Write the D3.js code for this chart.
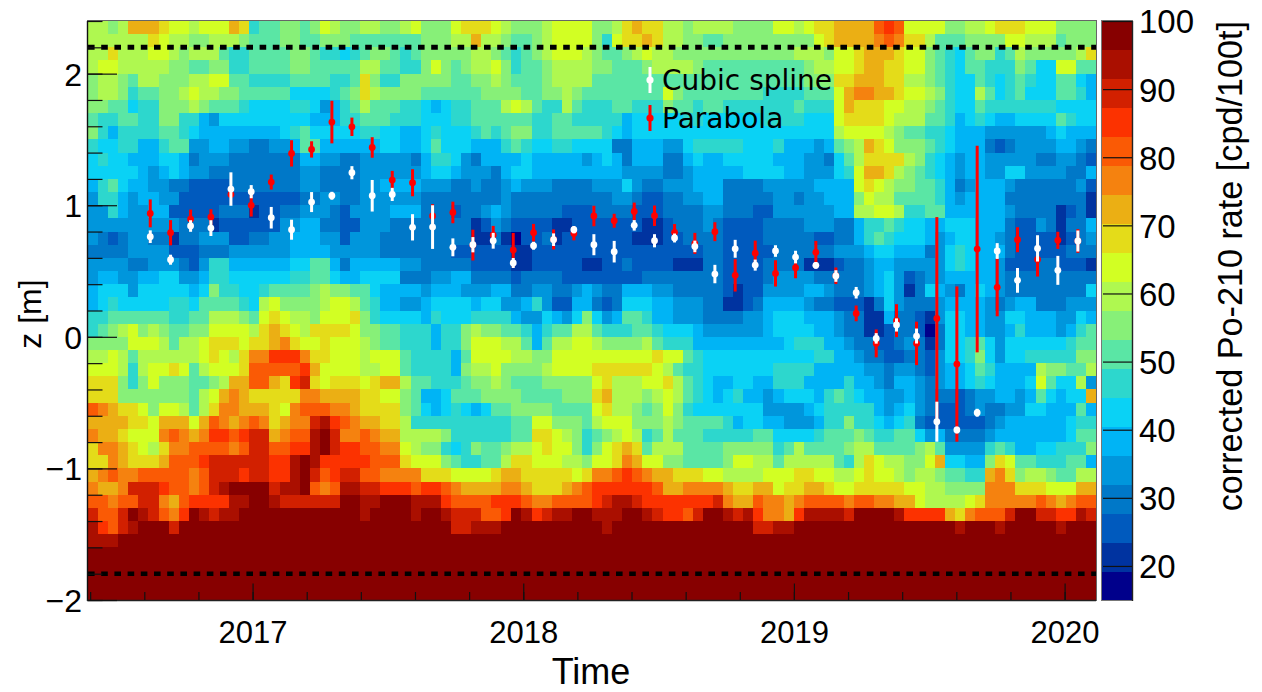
<!DOCTYPE html>
<html><head><meta charset="utf-8">
<script src="https://cdn.jsdelivr.net/npm/d3@7"></script>
<style>html,body{margin:0;padding:0;background:#fff}svg{display:block}</style>
</head><body><svg id="c" width="1262" height="692"></svg>
<script>
// colour levels, lowest to highest rate (20 equal bands between 15 and 100)
const palette = ["#00008b","#0033a0","#005abe","#0078c8","#0096dc","#00b4f5","#0ad2f5","#2dd7cd","#5ae6a5","#87f078","#aff850","#d2ff23","#e4dc19","#ebaf14","#f5820f","#fa5a05","#fc3200","#d22000","#aa0f00","#870000"];
const rateExtent = [15, 100];
const zExtent = [-2, 2.4];
const timeExtent = [2016.392, 2020.116];
// heat map rows, top (z=2.4) to bottom; each character is a rate band 0-9,a-j, one per two-week column
const heatRows = [
"aa9a ddd c bb a bbb d c 7 88 99 8 9 b a 99 aa 99 a b  999 b ccc b a 999 a bbbb 99 a c d cc aa 9 aaaa 999  9 bb a b cc dddd f g f bbbb 99 aa b ccc bbb 9999",
"aaaaaa c b aa 99 aaa 9 888 99 88 999 8888888  999aa d aa 9 88 9 a bbbb 9 7 b cc d c aa 99 88 9999  99999 b c dddd e f e cc a 888 9999 bb aaa 8 999",
"aacaaa bb a 9 aaa 8 77 8888 99 8 77 6 7 8 99 8 7 8  9999 9 aa 9 8 7 8 9 a bbb a 9 88 9 a b aa 9 99999999  999 aaa 9 bb c ddd c bb 9 8 7 6 8 99 7 8 a 99999 a c",
"a bb aaaaa 99 88 99 77 8888 99 88888 aa 88 77  9 b 9 8 9 aa b 9 7 88 9 aaaa 99 888 9 aaaa 9 888888  8888 9 aa bb c dd cc bb 9 8 7 6 88 777 9 8 66 bb 88",
"9 aa 9 8 aa 999 aa bb 88 7777 8888 77 8 c 9 77 99  999 88 99 a 9 888 9 aaaa 88888888888888888  8888 999 cc ddd cc aa 9 8 7 66 8 7 6 7 8 7 66 88 6 5",
"9 aa 9 7 88 99 a b aa 99 88888 6666 7 8 9 c a 9999  888888 9999 88 99 a 9 88888888 b 9 88888888  7777 888 b d ee dd c bb a 9 7 66 a 8 6 7 8 666 88 7 5",
"99 88 6 77 999 a 9 888 7 6666 77 6 4 5 7 8 a 888 77  6 5 6 77 888 a b a 8 77 a 8 777 88 777 9 88 7 88 7777  777 8 777 b d ccc bb aa 9 8 7 66 8 7777777 6666",
"8 77 88 77 99 77 5 4 666666666 555 77 888 777  666 77 88888 8 77 88 77777 5 66666 77 666666  7777 666 b cccc b aaa 88 7 5 6 7 6 55 6666 8 7 66",
"9 7 5 7777 88 7 6 55555555 6 7 8 66666 77 66 55  6 7 666 7 8 7 8 99 77 88888 7 6 5 6666666666666  6666666 a bbbb a 9 88 77 6 555 444444 5 6 555",
"7 66 77 55 7 88 44 55 44 33 44 5 88 555555 66 55  6 8 666 555 7 8 7 66 77 6666 33 555 44 6 77777 66  6 7 555 4 5 8 9 a d c b 999 8 7 6 555 3 2 3 4444 55 4 3",
"6 7 66 555 66 5 3 444 3333333 55 44 33 44444 3  5 77 6 4 3 5555 6 55555 4 5 6 5 3 555 33 5 6 55 6666  6 555 44 3 6 8 a cccc a 9 7 6 5 4 55 44444 33 44 3 2",
"66666 5 4 5 6 5 44 33 3333333 44 3333 444444  5 66 5 44 4 3 5 66 555555555 4444 33 4 5 5555 66  66 55 444 6 7 b dd c a 9 8 7 6 5 4 55 44 66 4444 33 5",
"5786 55 44 33 2222 3333333 44 3333 44 5555  444 33 4 33 4 5 444 3333 444 6 4 33 444 555 3333  44444 5555 b c b a 99 88 7 5 3 4 555 4 333333 4 2",
"4775 4 55 44 222222222222 33 44 33 444444  33333333 4 3333333333 44 3 22 33 44 55 3333  3 44 3 44 555 9 b aa 8888 7 5 4 5555 33333333 1",
"4475 44 55 22222 333 1 22 33 444 3 2 4444 555  333 2 33 4 5 4 33333 222 3333 222 3333 44 333 2  2 444444 55 aa bb a 77 88 555555 4 3333 1 2 3 1",
"444444444 333 1 222222 44 55 33 22 444 333  33333 1 2 4 3 2222 11 222222 2 11 2 333 4 3 2222  3333 444 33 5 77 8 7 66 55 666 555 3 22 4 3 1 33 5",
"4323 44 33 1 33 444 22 33 44 555 44 2 444 3333  33333 11 3 1 0 22 3 1 2222222 111 22 3333 2222  33333 22 33 5 7 8 7 666 5 4 5 66 55 4 3 2222 1 2 3 4",
"3333 4444 222 333 444444 5555 44444 3333  333 222222 11 2222222222222 2222 33 2222  2 333333 444 5 66 555 3 4 6 7 6 555 3 22222 333",
"4444 33 444 3 2 4 77 555555 66 88 5 3 55555 44  33333 2222 11 2222 2 11 22 3 222 2 111 33 2222  3333 111 2 33 4 55 44444 6 7 6 55 4 222 33 222 1",
"4 55 44 55 66 44 5 77 666666 77 88 6 55 6666 33  3 44 55 3333 2 3 333 22222222 33333333 2222  3 4444 33333 4 5 6 4 2 3 44 55555 4 333333333",
"5 666 4 666 66 5 6 9 77 66 7 8888 9 a 99 88 6 5555  4 555 444 55 33 44 33 4 5 4 33 555 44 33333 2 1 22  4444 55 4 333 4 5 6 4 1 3 6 5 4 3 5 6 5 4 33333333 6",
"5 6 7 66666 77 6 8888 7 6 a b 9999 a bb a 8 7 55 44  5 6666 5 66 44 5 7 4 22 55 3 2 3 666 55 444 33 11 2 3  5555 4 33 222 1 3 6 4 333 4 5555 4 3 4 55 333 444",
"77 888888 77 88 a aa 9 8 b c b aa 9 bbb c 9 7 6666  5 7 666 7777 5 44 6 5 4 6 9 6 4 5 88 7 5 5 444 3333 44  5 666 555 4 33 11 5 33 2 1 4 66 55 44 66 555 44 6 5",
"7 8 9 a b 9 a 9 88 99 bbbb a c d c b a c ccc b 99 88 77  7 5 77 9 a 99 88 7 5 7 88 aa 8 777 88 7 666 5 444444  5 6666 55 4 33 11 2 33 2 0 3 66 55 44 5 7 555 4 5 7 8",
"9999 bbb a 8 aa b ccc b cc d e c bb c bbb a 9 88 77  7 5 77 9 bbb aa 8 5 8 aa bb a 9999 a 8 777 5555555  55 6 777 55 4 33 22 3 4 3 1 3 66 7 8 6 4 666666 7 88",
"a a b a 8 aaaaaa b c b a c ee ggg e c c bbb a bbb 8 7  777 5 8 bbbb aa 99 bbbb bbbbbb c bb 8 7 666666  66666 77 55 4 33 22 33 2 4 66 7 9 6 4 66 77777 99",
"bbb a 7 a bb c b 8 a bbb c fffff g d bbbb aa bb 8 7  777 5 9 aa b 9999 a bbbb cccccc b a 8 77 666666  6 7777 55555 4 4 3 44 3 2 4 55 6 8 7 5555 a 99 88 a",
"ccc 9 7 9 b 999 88 9 a dd f f d c g h c b ccc b c dd a 8  8 777 8 99 a 9 888 99 999 b c aaa bb c a 8 7 6 55 66 5  5 777 5555 7 55 4 3 55 4 3 4 55 6 7 6 555 6 b 8 66 a 4",
"ccc 9999999 8 a b d e d ccccc ee dddd cc bb 9 8  55 6 888 9999 8888 999 c d aaa 9 a b a 8 7 6 5 6 7 55  4 5 666 5 7 8 7 6 55 44 5 4 333 2 3 44 55 4 5 8 6 5 66 d",
"f e d cc b 9 bb a 8 a c ee d dd c b e fff ee d cccc 9 8  6 5 6 7 6 5 6 88 9999 8888 b c aa 9 8 9 b 9 7 6666666  4444 5 6 77777 5 4 5 6 4 3 222 3 4 33 44 66 555 8 5",
"dddd cc b ddd b d f e d e f e c d ee h i g f e dd cc a 7  777777777 88 bb 999 8 a bbb 999 a 9 8888 7 5 66  55 444 5 77 9 77 6 5 6 7 3 222222 3 4 555555 6 77",
"e dd c bbb e f e d e gg f g h h d e ff i j h ee f e dd aa  aa 9 777777 88 cc b a 9 7 8 9 a b a 7 8 a 888 77777 8  8 6666 7 888 9 8 77 88 6 4 5 3333 4 5555555 6 88",
"c ee d c b a c ee ffff e f hh ff gg i j h gg ff ee b a  99 7 6 7 9 88 9 aa b c bb 9 7 9 b c d c 8 aaa 8888 9999  9 7 8 a 8888 9 aa 8888 9 a 8 4444 7 8 7 55 66 777 9",
"cc e d ccc d fff g hhhhhh gg i j i ggggg fff c b  bb 9 8 77 88 a cc bbb aa 9 bb c e d bb 99 8888 9 bb a  a 8 aaaaa 8 7 a c b aa 99 b d 66 55 9 c b 88 777 88 5",
"d e f ee fffff e f hhh g hh gg i j h f g hh ff eeee  ccc bbbb c dd ccccc b c ee f g f e dd ccc bb aaaa  bbb cc bb aa b c bb a 9 aa 9 88 77 d e c 9 aa 9 88 aa",
"e dd e hhh g ff e f h i jjjj h ii j f e f ii hh ggg f  gg f e dddd ee d ccc d e f gggggg f dd eeee d cc d  d b cc dd c bb ccccc bb aa 9999 eee ccc bbb dd",
"ff e ff hh e d f gggg ii jj i hhhhhh jj ii jjj i  ii g ffff ggg f ee ffff g h ii h ggggggg h e dd f  ee d e ffff e ff ee dd b aaaa b c eeeee f e d e ff",
"h ff h j i h f e g j i h ii jjjjjjjjjjjj i jjjj i  jj i hhh ff g j i g h ii jj iii jj i h gg f h jj i h i g  ee d g iiii h jjjj i gggg d c e fff h jj hh gg i h",
"i g f h i jjj h jjjjjjjjjjjjjjjjjjjjjjjj  jjj hh iii jjjjjjjjjj i jjjjjjjjjjjjjj h  h ii jjjjjjjjjjjjjjjj i jjj i jjjjj i jjj",
"iii jjjjjjjjjjjjjjjjjjjjjjjjjjjjjj  jjjjjjjjjjjjjjjjjjjjjjjjjjjjjjjj  jjjjjjjjjjjjjjjjjjjjjjjjjjjjjjjjj",
"jjjjjjjjjjjjjjjjjjjjjjjjjjjjjjjjj jjjjjjjjjjjjjjjjjjjjjjjjjjjjjjjjj jjjjjjjjjjjjjjjjjjjjjjjjjjjjjjjjj",
"jjjjjjjjjjjjjjjjjjjjjjjjjjjjjjjjj jjjjjjjjjjjjjjjjjjjjjjjjjjjjjjjjj jjjjjjjjjjjjjjjjjjjjjjjjjjjjjjjjj",
"jjjjjjjjjjjjjjjjjjjjjjjjjjjjjjjjj jjjjjjjjjjjjjjjjjjjjjjjjjjjjjjjjj jjjjjjjjjjjjjjjjjjjjjjjjjjjjjjjjj",
"jjjjjjjjjjjjjjjjjjjjjjjjjjjjjjjjj jjjjjjjjjjjjjjjjjjjjjjjjjjjjjjjjj jjjjjjjjjjjjjjjjjjjjjjjjjjjjjjjjj"
];
const pointTimes = [2016.622,2016.697,2016.771,2016.846,2016.920,2016.995,2017.069,2017.144,2017.218,2017.293,2017.367,2017.442,2017.516,2017.591,2017.665,2017.740,2017.814,2017.889,2017.963,2018.038,2018.112,2018.187,2018.261,2018.336,2018.410,2018.485,2018.559,2018.634,2018.708,2018.783,2018.857,2018.932,2019.006,2019.081,2019.155,2019.230,2019.304,2019.379,2019.453,2019.528,2019.602,2019.677,2019.751,2019.826,2019.900,2019.975,2020.049];
const splineZ = [.761,.586,.842,.826,1.123,1.103,.905,.814,1.024,1.072,1.247,1.072,1.082,.832,.834,.680,.700,.730,.561,.692,.738,.814,.700,.647,.847,.730,.751,.687,.477,.669,.545,.652,.606,.543,.462,.335,-.012,.090,.006,-.645,-.708,-.577,.652,.429,.672,.505,.728];
const splineErr = [.048,.038,.044,.06,.127,.05,.082,.076,.076,.03,.05,.12,.05,.1,.166,.068,.058,.06,.038,.03,.048,.028,.08,.082,.04,.05,.034,.044,.07,.068,.042,.044,.048,.025,.044,.044,.04,.05,.057,.152,.025,.03,.06,.094,.1,.11,.08];
const parabolaZ = [.938,.791,.895,.910,1.082,.999,1.176,1.394,1.424,1.632,1.596,1.439,1.191,1.171,.918,.945,.697,.773,.659,.791,.740,.786,.918,.882,.953,.920,.794,.710,.799,.467,.636,.482,.525,.642,.464,.178,-.05,.123,-.05,.14,-.207,.667,.376,.738,.588,.733,.728];
const parabolaErr = [.106,.096,.072,.06,.02,.085,.057,.1,.062,.162,.07,.078,.07,.103,.09,.082,.117,.07,.13,.067,.076,.053,.078,.053,.067,.078,.063,.08,.072,.123,.095,.1,.08,.087,.063,.06,.106,.125,.165,.77,.59,.785,.22,.095,.13,.065,.09];
const yearTicks = [2017,2018,2019,2020];
const zTicks = [-2,-1,0,1,2];
const rateTicks = [20,30,40,50,60,70,80,90,100];
const legendItems = [["Cubic spline","#fff"],["Parabola","#f00"]];

const L=88,R=1096,T=21,B=600,CL=1102,CR=1132;
const SANS="'Liberation Sans',Arial,sans-serif";
const svg=d3.select("#c");
const x=d3.scaleLinear().domain(timeExtent).range([L,R]);
const y=d3.scaleLinear().domain(zExtent).range([B,T]);
const cb=d3.scaleLinear().domain(rateExtent).range([B,T]);
const color=d3.scaleQuantize().domain(rateExtent).range(palette);
const bandValue=i=>rateExtent[0]+(i+.5)*(rateExtent[1]-rateExtent[0])/palette.length;

const grid=heatRows.map(r=>{const s=r.replace(/\s/g,"").padEnd(100,"j").slice(0,100);return s.split("").map(c=>parseInt(c,20));});
const colStep=(timeExtent[1]-timeExtent[0])/100;
const cells=[];
grid.forEach((r,i)=>r.forEach((v,j)=>cells.push({t:timeExtent[0]+j*colStep,z:zExtent[1]-(i+1)*.1,rate:bandValue(v)})));
svg.append("g").attr("shape-rendering","crispEdges").selectAll("rect").data(cells).join("rect")
 .attr("x",d=>x(d.t)).attr("width",d=>x(d.t+colStep)-x(d.t)+.5)
 .attr("y",d=>y(d.z+.1)).attr("height",d=>y(d.z)-y(d.z+.1)+.5)
 .attr("fill",d=>color(d.rate));

// dotted fiducial lines
[[2.2,5],[-1.8,4.5]].forEach(([z,w])=>svg.append("line").attr("x1",L).attr("x2",R).attr("y1",y(z)).attr("y2",y(z))
 .attr("stroke","#000").attr("stroke-width",w).attr("stroke-dasharray","6.6 6.6"));

// points
function series(zs,es,col,r,w){
 const g=svg.append("g");
 pointTimes.forEach((t,i)=>{
  g.append("line").attr("x1",x(t)).attr("x2",x(t)).attr("y1",y(zs[i]-es[i])).attr("y2",y(zs[i]+es[i])).attr("stroke",col).attr("stroke-width",w);
  g.append("circle").attr("cx",x(t)).attr("cy",y(zs[i])).attr("r",r).attr("fill",col);
 });
}
series(parabolaZ,parabolaErr,"#f00",3.4,3);
series(splineZ,splineErr,"#fff",3.4,3);

// frame
svg.append("rect").attr("x",L-.5).attr("y",T-.5).attr("width",R-L+1).attr("height",B-T+1).attr("fill","none").attr("stroke","#666").attr("stroke-width",1);
svg.append("line").attr("x1",L-.5).attr("x2",L-.5).attr("y1",T).attr("y2",B+1).attr("stroke","#111").attr("stroke-width",1.4);
svg.append("line").attr("x1",L-1).attr("x2",R).attr("y1",B+.5).attr("y2",B+.5).attr("stroke","#222").attr("stroke-width",1.4);

// axes
const minor=(a,b,s)=>d3.range(Math.round((b-a)/s)+1).map(i=>a+i*s);
const yAxisMinor=d3.axisLeft(y).tickValues(minor(-2,2.4,.2)).tickSizeInner(-14.5).tickSizeOuter(0).tickFormat("");
const yAxis=d3.axisLeft(y).tickValues(zTicks).tickSizeInner(-29).tickSizeOuter(0).tickPadding(0).tickFormat(d=>d<0?"\u2212"+(-d):d);
const xAxisMinor=d3.axisBottom(x).tickValues(minor(2016.4,2020.0,.2)).tickSizeInner(-8).tickSizeOuter(0).tickFormat("");
const xAxis=d3.axisBottom(x).tickValues(yearTicks).tickSizeInner(-16.5).tickSizeOuter(0).tickFormat(d3.format("d"));
function style(g){g.select(".domain").remove();g.selectAll("line").attr("stroke","#111").attr("stroke-width",1.2);}
svg.append("g").attr("transform",`translate(${L},0)`).call(yAxisMinor).call(style);
svg.append("g").attr("transform",`translate(${L},0)`).call(yAxis).call(style).call(g=>g.selectAll("text").attr("font-family",SANS).attr("font-size",32).attr("fill","#000").attr("x",-6).attr("dy",".36em"));
svg.append("g").attr("transform",`translate(0,${B})`).call(xAxisMinor).call(style);
svg.append("g").attr("transform",`translate(0,${B})`).call(xAxis).call(style).call(g=>g.selectAll("text").attr("font-family",SANS).attr("font-size",31).attr("fill","#000").attr("y",43).attr("dy",0));

// colour bar
svg.append("g").attr("shape-rendering","crispEdges").selectAll("rect").data(palette).join("rect")
 .attr("x",CL).attr("width",CR-CL)
 .attr("y",(d,i)=>cb(bandValue(i)+2.125)).attr("height",(B-T)/palette.length+.5).attr("fill",d=>d);
svg.append("rect").attr("x",CL-.5).attr("y",T-.5).attr("width",CR-CL+1).attr("height",B-T+1).attr("fill","none").attr("stroke","#777").attr("stroke-width",1);
svg.append("line").attr("x1",CR+.5).attr("x2",CR+.5).attr("y1",T).attr("y2",B+1).attr("stroke","#222").attr("stroke-width",1.4);
const cAxis=d3.axisRight(cb).tickValues(rateTicks).tickSizeInner(-29).tickSizeOuter(0).tickFormat(d3.format("d"));
svg.append("g").attr("transform",`translate(${CR},0)`).call(cAxis).call(style).call(g=>g.selectAll("text").attr("font-family",SANS).attr("font-size",33).attr("fill","#000").attr("x",7).attr("dy",".36em"));

// titles
svg.append("text").attr("x",591).attr("y",684).attr("text-anchor","middle").attr("font-family",SANS).attr("font-size",36).text("Time");
svg.append("text").attr("transform","translate(41,314) rotate(-90)").attr("text-anchor","middle").attr("font-family",SANS).attr("font-size",32).text("z [m]");
svg.append("text").attr("transform","translate(1242,21) rotate(-90)").attr("text-anchor","end").attr("font-family",SANS).attr("font-size",34.2).text("corrected Po-210 rate [cpd/100t]");

// legend
legendItems.forEach(([label,col],i)=>{
 const cy=80+i*38;
 svg.append("line").attr("x1",650).attr("x2",650).attr("y1",cy-13).attr("y2",cy+13).attr("stroke",col).attr("stroke-width",3);
 svg.append("circle").attr("cx",650).attr("cy",cy).attr("r",3.6).attr("fill",col);
 svg.append("text").attr("x",662).attr("y",cy+10).attr("font-family","'DejaVu Sans',sans-serif").attr("font-size",28).attr("fill","#000").text(label);
});
</script></body></html>
